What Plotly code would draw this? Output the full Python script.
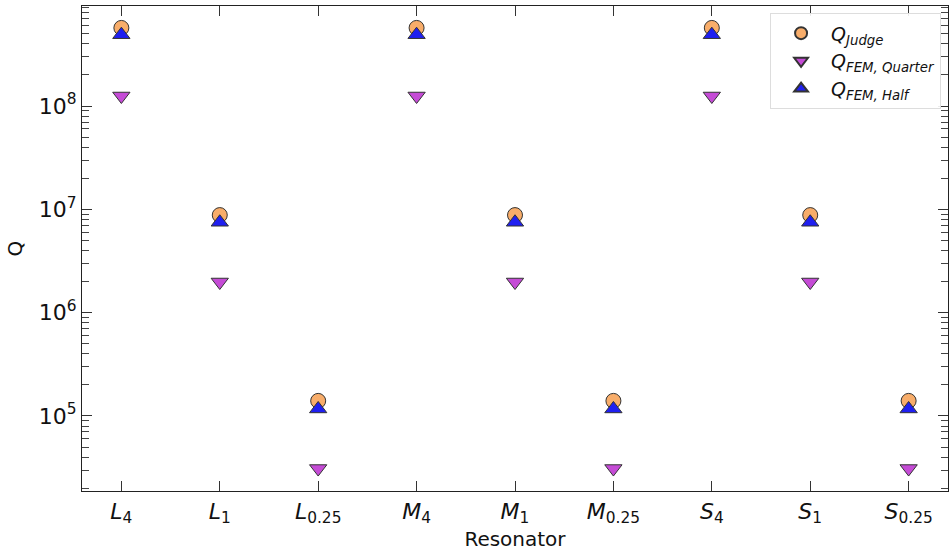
import plotly.graph_objects as go

categories = ["L4", "L1", "L0.25", "M4", "M1", "M0.25", "S4", "S1", "S0.25"]
tick_labels = ["<i>L</i><sub>4</sub>", "<i>L</i><sub>1</sub>", "<i>L</i><sub>0.25</sub>",
               "<i>M</i><sub>4</sub>", "<i>M</i><sub>1</sub>", "<i>M</i><sub>0.25</sub>",
               "<i>S</i><sub>4</sub>", "<i>S</i><sub>1</sub>", "<i>S</i><sub>0.25</sub>"]
q_judge = [5.7e8, 8.8e6, 1.4e5, 5.7e8, 8.8e6, 1.4e5, 5.7e8, 8.8e6, 1.4e5]
q_fem_quarter = [1.25e8, 1.98e6, 3.1e4, 1.25e8, 1.98e6, 3.1e4, 1.25e8, 1.98e6, 3.1e4]
q_fem_half = [4.9e8, 7.5e6, 1.17e5, 4.9e8, 7.5e6, 1.17e5, 4.9e8, 7.5e6, 1.17e5]
y_tickvals = [1e5, 1e6, 1e7, 1e8]
y_ticktext = ["10<sup>5</sup>", "10<sup>6</sup>", "10<sup>7</sup>", "10<sup>8</sup>"]

minor_vals = [m * 10 ** k for k in range(4, 9) for m in range(2, 10)]

x = list(range(len(categories)))
edge = dict(color="#333333", width=1)
y_range = [4.274, 8.968]

fig = go.Figure()
fig.add_trace(go.Scatter(x=x, y=q_judge, mode="markers", name="<i>Q<sub>Judge</sub></i>",
                         marker=dict(symbol="circle", size=15, color="#f8ad6a", line=edge)))
fig.add_trace(go.Scatter(x=x, y=q_fem_quarter, mode="markers", name="<i>Q<sub>FEM, Quarter</sub></i>",
                         marker=dict(symbol="triangle-down", size=15, color="#c54bd6", line=edge)))
fig.add_trace(go.Scatter(x=x, y=q_fem_half, mode="markers", name="<i>Q<sub>FEM, Half</sub></i>",
                         marker=dict(symbol="triangle-up", size=15, color="#1f1ff0", line=edge)))

axis_common = dict(showline=True, linecolor="#222222", linewidth=1.3, mirror="allticks",
                   ticks="inside", ticklen=10, tickcolor="#333333", tickwidth=1.3,
                   showgrid=False, zeroline=False)

fig.update_layout(
    width=950, height=552,
    margin=dict(l=82, r=2, t=6, b=61),
    plot_bgcolor="white", paper_bgcolor="white",
    font=dict(family="DejaVu Sans", size=20, color="#111111"),
    showlegend=True,
    legend=dict(x=0.992, y=0.985, xanchor="right", yanchor="top",
                bgcolor="rgba(255,255,255,0.9)", bordercolor="#dddddd", borderwidth=1,
                font=dict(size=19), itemsizing="constant", itemwidth=50,
                tracegroupgap=4),
    xaxis=dict(**axis_common, range=[-0.4, 8.4], tickvals=x, ticktext=tick_labels,
               tickfont=dict(size=22),
               title=dict(text="Resonator", standoff=0, font=dict(size=20))),
    yaxis=dict(**axis_common, type="log", range=y_range,
               tickmode="array", tickvals=y_tickvals, ticktext=y_ticktext,
               tickfont=dict(size=22),
               minor=dict(tickmode="array", tickvals=minor_vals, ticks="inside",
                          ticklen=7, tickcolor="#444444", tickwidth=1.2, showgrid=False),
               title=dict(text="Q", standoff=10, font=dict(size=20))),
)

fig.write_html("out.html")
